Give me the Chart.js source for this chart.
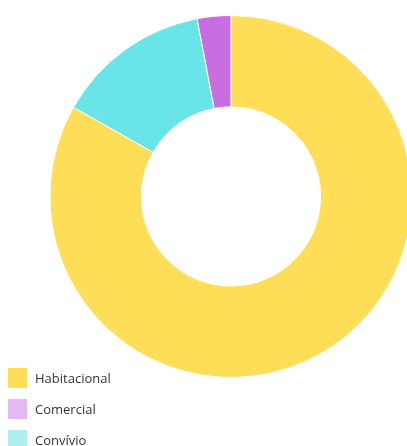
<!DOCTYPE html>
<html>
<head>
<meta charset="utf-8">
<script src="https://cdn.jsdelivr.net/npm/chart.js@4/dist/chart.umd.min.js"></script>
<style>
  html, body { margin: 0; padding: 0; background: #fff; overflow: hidden; width: 407px; height: 446px; }
  #wrap { position: absolute; left: 0; top: 0; width: 462px; height: 394px; }
  #legend { position: absolute; left: 8px; top: 368px; margin: 0; padding: 0; list-style: none;
    font-family: "Open Sans", sans-serif; font-size: 13px; color: #333; }
  #legend li { display: flex; align-items: center; height: 20px; margin-bottom: 11px; }
  #legend .box { width: 19px; height: 20px; margin-right: 8px; }
</style>
</head>
<body>
<div id="wrap"><canvas id="c"></canvas></div>
<ul id="legend"></ul>
<script>
const categories = ["Habitacional", "Convívio", "Comercial"];
const values = [83.2, 13.8, 3.0];
const legendOrder = ["Habitacional", "Comercial", "Convívio"];
const sliceColors = ["#FFDE57", "#69E5E7", "#C96EE1"];
const legendColors = ["#FFDE57", "#AFEFF0", "#E6B8F1"];

const chart = new Chart(document.getElementById("c"), {
  type: "doughnut",
  data: {
    labels: categories,
    datasets: [{
      data: values,
      backgroundColor: sliceColors,
      borderColor: "#fff",
      borderWidth: 1
    }]
  },
  options: {
    responsive: true,
    maintainAspectRatio: false,
    animation: false,
    cutout: "49.5%",
    layout: { padding: { top: 15, bottom: 16 } },
    plugins: { legend: { display: false }, tooltip: { enabled: false } }
  }
});

const ul = document.getElementById("legend");
legendOrder.forEach(name => {
  const i = categories.indexOf(name);
  const li = document.createElement("li");
  const box = document.createElement("span");
  box.className = "box";
  box.style.background = legendColors[i];
  const t = document.createElement("span");
  t.textContent = name;
  li.appendChild(box);
  li.appendChild(t);
  ul.appendChild(li);
});
</script>
</body>
</html>
